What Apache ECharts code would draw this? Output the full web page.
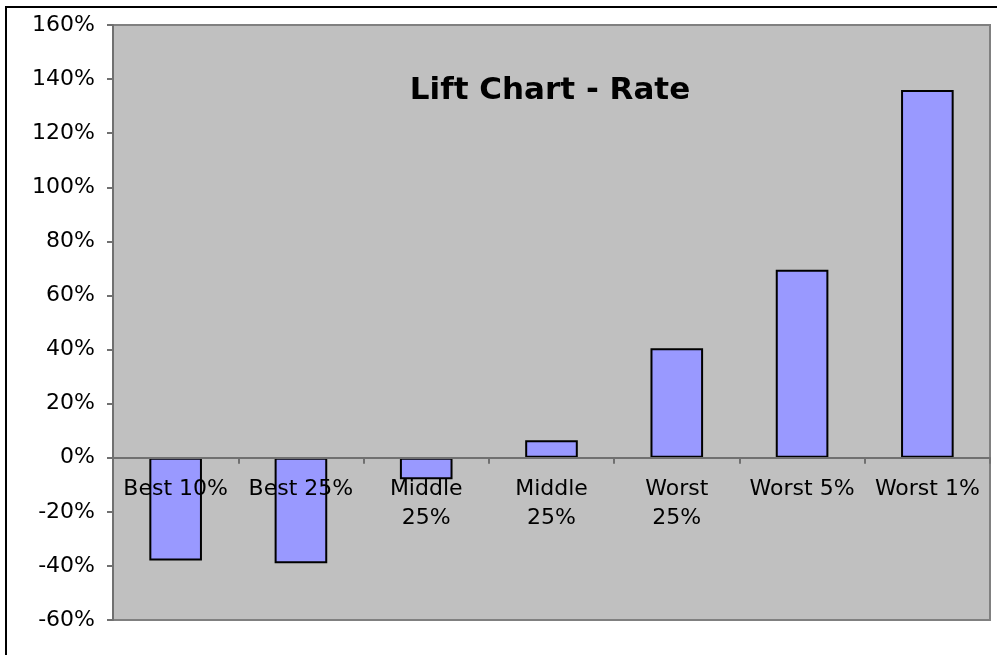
<!DOCTYPE html>
<html>
<head>
<meta charset="utf-8">
<script src="https://cdn.jsdelivr.net/npm/echarts@6/dist/echarts.min.js"></script>
<style>
  html, body { margin: 0; padding: 0; background: #fff; }
  #chart { width: 997px; height: 655px; }
</style>
</head>
<body>
<div id="chart"></div>
<script>
// Lift by segment, in percent
var categories = ['Best 10%', 'Best 25%', 'Middle\n25%', 'Middle\n25%', 'Worst\n25%', 'Worst 5%', 'Worst 1%'];
var liftRate = [-38, -39, -8, 6.5, 40.5, 69.5, 136];
var yMin = -60, yMax = 160, yStep = 20;

var W = 997, H = 655;
var gridBox = { left: 113, top: 25, right: 7, bottom: 35 };
var plotH = H - gridBox.top - gridBox.bottom;
// lift the category axis (line, ticks and labels) up to the 0% level
var zeroOffset = -((0 - yMin) / (yMax - yMin)) * plotH;

var chart = echarts.init(document.getElementById('chart'));
chart.setOption({
  animation: false,
  backgroundColor: '#ffffff',
  title: {
    text: 'Lift Chart - Rate',
    left: 545,
    top: 70,
    textAlign: 'center',
    textStyle: {
      fontFamily: 'DejaVu Sans',
      fontWeight: 'bold',
      fontSize: 31,
      color: '#000'
    }
  },
  graphic: [{
    type: 'rect',
    shape: { x: 6, y: 7, width: 1000, height: 700 },
    style: { fill: 'none', stroke: '#000', lineWidth: 2 },
    silent: true,
    z: -10
  }],
  grid: {
    left: gridBox.left, top: gridBox.top, right: gridBox.right, bottom: gridBox.bottom,
    outerBoundsMode: 'none',
    containLabel: false,
    show: true,
    backgroundColor: '#c0c0c0',
    borderColor: '#808080',
    borderWidth: 2
  },
  xAxis: {
    type: 'category',
    data: categories,
    position: 'bottom',
    offset: zeroOffset,
    z: 5,
    axisLine: { onZero: false, lineStyle: { color: '#707070', width: 2 } },
    axisTick: { show: true, alignWithLabel: false, length: 6, lineStyle: { color: '#707070', width: 2 } },
    axisLabel: {
      interval: 0,
      margin: 17,
      fontFamily: 'DejaVu Sans',
      fontSize: 22,
      lineHeight: 29,
      color: '#000'
    },
    splitLine: { show: false }
  },
  yAxis: {
    type: 'value',
    min: yMin,
    max: yMax,
    interval: yStep,
    axisLine: { show: true, lineStyle: { color: '#707070', width: 2 } },
    axisTick: { show: true, length: 6, lineStyle: { color: '#707070', width: 2 } },
    axisLabel: {
      formatter: '{value}%',
      margin: 18,
      fontFamily: 'DejaVu Sans',
      fontSize: 22,
      color: '#000'
    },
    splitLine: { show: false }
  },
  series: [{
    type: 'bar',
    data: liftRate,
    barWidth: '42%',
    itemStyle: { color: '#9999ff', borderColor: '#000', borderWidth: 2 }
  }]
});
</script>
</body>
</html>
